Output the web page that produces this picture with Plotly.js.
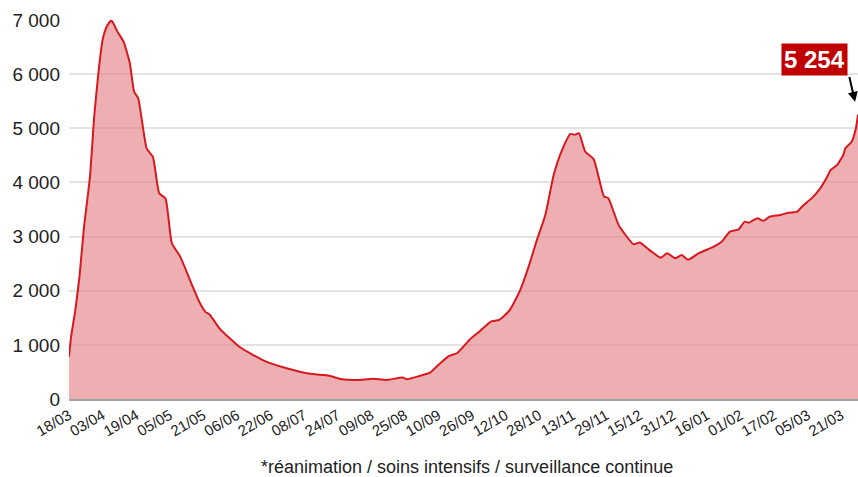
<!DOCTYPE html>
<html>
<head>
<meta charset="utf-8">
<script src="https://cdn.plot.ly/plotly-3.0.1.min.js"></script>
<style>
  html, body { margin: 0; padding: 0; background: #ffffff; }
  #chart { width: 858px; height: 477px; }
</style>
</head>
<body>
<div id="chart"></div>
<script>
// Patients en réanimation / soins intensifs / surveillance continue (France)
const dates = [
  "2020-03-18","2020-03-19","2020-03-21","2020-03-23","2020-03-25","2020-03-28","2020-03-30",
  "2020-04-01","2020-04-03","2020-04-05","2020-04-07","2020-04-08","2020-04-10","2020-04-13",
  "2020-04-16","2020-04-18","2020-04-20","2020-04-24","2020-04-27","2020-04-30",
  "2020-05-03","2020-05-06","2020-05-10","2020-05-16","2020-05-19","2020-05-22","2020-05-24","2020-05-29",
  "2020-06-07","2020-06-13","2020-06-20","2020-06-28",
  "2020-07-06","2020-07-12","2020-07-20","2020-07-26",
  "2020-08-02","2020-08-10","2020-08-16","2020-08-24","2020-08-26",
  "2020-09-01","2020-09-06","2020-09-10","2020-09-15","2020-09-19","2020-09-25","2020-09-30",
  "2020-10-05","2020-10-09","2020-10-14","2020-10-19","2020-10-23","2020-10-27","2020-10-31",
  "2020-11-04","2020-11-08","2020-11-12","2020-11-14","2020-11-16","2020-11-19","2020-11-23","2020-11-28","2020-11-30",
  "2020-12-05","2020-12-12","2020-12-15","2020-12-20","2020-12-25","2020-12-28",
  "2021-01-01","2021-01-04","2021-01-07","2021-01-12","2021-01-19","2021-01-23","2021-01-27","2021-01-31",
  "2021-02-03","2021-02-05","2021-02-09","2021-02-12","2021-02-15","2021-02-20","2021-02-24","2021-02-28",
  "2021-03-03","2021-03-07","2021-03-11","2021-03-14","2021-03-16","2021-03-19","2021-03-22","2021-03-23",
  "2021-03-26","2021-03-28","2021-03-29"
];
const patients = [
  780,1150,1640,2260,3120,4110,5210,
  6020,6630,6880,6990,6950,6790,6600,
  6200,5680,5550,4630,4470,3800,
  3700,2880,2630,2070,1800,1610,1560,1290,
  970,830,690,585,
  505,460,430,365,
  350,375,350,395,365,
  425,486,628,790,850,1100,1260,
  1430,1460,1640,2010,2440,2940,3400,
  4140,4600,4895,4880,4910,4570,4430,3740,3710,
  3210,2860,2890,2740,2610,2690,
  2600,2660,2570,2690,2810,2905,3090,3130,
  3275,3257,3340,3290,3370,3400,3440,3460,
  3580,3710,3890,4080,4230,4320,4510,4630,
  4750,5000,5254
];
const yTicks = [0, 1000, 2000, 3000, 4000, 5000, 6000, 7000];
const firstTick = "2020-03-18";
const tickStepDays = 16;
const caption = "*réanimation / soins intensifs / surveillance continue";

const lastDate = dates[dates.length - 1];
const lastVal = patients[patients.length - 1];
const lastLabel = String(lastVal).replace(/\B(?=(\d{3})+(?!\d))/g, " ");

const FONT = '"Liberation Sans", Arial, sans-serif';

const trace = {
  type: "scatter",
  mode: "lines",
  x: dates,
  y: patients,
  line: { color: "#d7191f", width: 2, shape: "spline", smoothing: 0.5 },
  fill: "tozeroy",
  fillcolor: "rgba(228,126,131,0.62)",
  hoverinfo: "skip"
};

const layout = {
  width: 858,
  height: 477,
  margin: { l: 69, r: 0, t: 20, b: 78 },
  paper_bgcolor: "#ffffff",
  plot_bgcolor: "#ffffff",
  showlegend: false,
  separators: ", ",
  font: { family: FONT, color: "#222222" },
  xaxis: {
    type: "date",
    range: [dates[0], lastDate],
    tick0: firstTick,
    dtick: tickStepDays * 86400000,
    tickformat: "%d/%m",
    tickangle: -30,
    tickfont: { family: FONT, size: 15, color: "#222222" },
    showgrid: false,
    zeroline: false,
    showline: true,
    linecolor: "#a3a3a3",
    linewidth: 2,
    layer: "above traces",
    ticks: ""
  },
  yaxis: {
    range: [0, 7000],
    tickvals: yTicks,
    separatethousands: true,
    tickformat: ",d",
    tickfont: { family: FONT, size: 19, color: "#222222" },
    showgrid: true,
    gridcolor: "#e3e3e3",
    gridwidth: 2,
    zeroline: false,
    showline: false,
    ticks: "",
    ticklabelstandoff: 8
  },
  annotations: [
    {
      xref: "paper", yref: "paper",
      x: 0.504, y: -0.179,
      xanchor: "center", yanchor: "middle",
      text: caption,
      showarrow: false,
      font: { family: FONT, size: 18, color: "#222222" }
    },
    {
      xref: "x", yref: "y",
      x: lastDate, y: lastVal,
      text: "",
      showarrow: true,
      ax: -9, ay: -39,
      arrowcolor: "#000000",
      arrowwidth: 2,
      arrowhead: 2,
      arrowsize: 1,
      standoff: 13
    },
    {
      xref: "x", yref: "y",
      x: lastDate, y: lastVal,
      xshift: -44, yshift: 55,
      xanchor: "center", yanchor: "middle",
      text: "<b>" + lastLabel + "</b>",
      showarrow: false,
      bgcolor: "#c00000",
      borderpad: 2,
      font: { family: FONT, size: 24, color: "#ffffff" }
    }
  ]
};

Plotly.newPlot("chart", [trace], layout, { displayModeBar: false, staticPlot: true });
</script>
</body>
</html>
